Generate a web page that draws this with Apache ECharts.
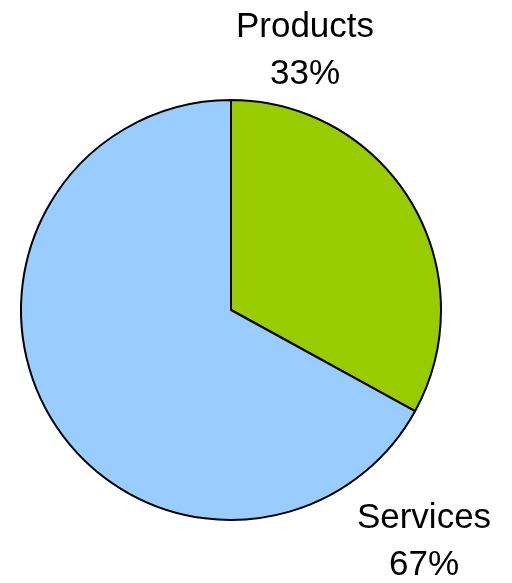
<!DOCTYPE html>
<html>
<head>
<meta charset="utf-8">
<style>html,body{margin:0;padding:0;background:#fff;}#c{width:512px;height:583px;}</style>
<script src="https://cdn.jsdelivr.net/npm/echarts@6/dist/echarts.min.js"></script>
</head>
<body>
<div id="c"></div>
<script>
const categories = ['Products', 'Services'];
const values = [33, 67];
const colors = ['#99CC00', '#99CCFF'];

const chart = echarts.init(document.getElementById('c'), null, {renderer: 'canvas'});
const labelPos = [[305, 51], [424, 542]];
chart.setOption({
  animation: false,
  series: [{
    type: 'pie',
    center: [231, 310],
    radius: [0, 210],
    startAngle: 90,
    clockwise: true,
    data: categories.map((c, i) => ({name: c, value: values[i], itemStyle: {color: colors[i]}})),
    itemStyle: {borderColor: '#000', borderWidth: 2},
    label: {
      show: true,
      position: 'inside',
      overflow: 'none',
      formatter: p => p.name + '\n' + Math.round(p.percent) + '%',
      fontFamily: 'Liberation Sans, Arial, sans-serif',
      fontSize: 35,
      lineHeight: 47,
      color: '#000',
      align: 'center'
    },
    labelLine: {show: false},
    labelLayout: function (params) {
      const p = labelPos[params.dataIndex];
      return {x: p[0], y: p[1], align: 'center', verticalAlign: 'middle', hideOverlap: false};
    },
    emphasis: {disabled: true}
  }]
});
</script>
</body>
</html>
